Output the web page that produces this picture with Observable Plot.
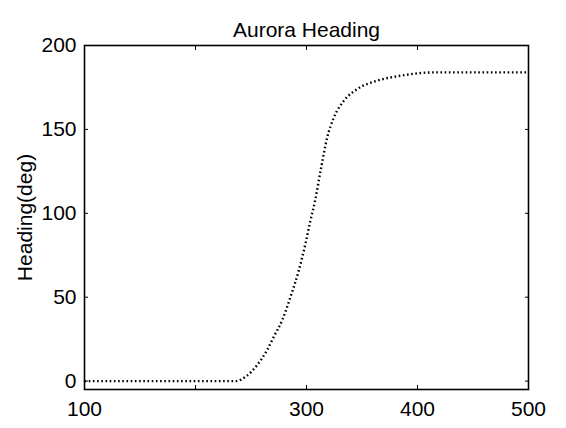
<!DOCTYPE html>
<html>
<head>
<meta charset="utf-8">
<script src="https://cdn.jsdelivr.net/npm/d3@7"></script>
<script src="https://cdn.jsdelivr.net/npm/@observablehq/plot@0.6"></script>
<style>
  html, body { margin: 0; padding: 0; background: #fff; }
  svg { display: block; }
</style>
</head>
<body>
<div id="chart"></div>
<script>
const title = "Aurora Heading";
const yLabel = "Heading(deg)";

// Sampled heading curve (x, heading in degrees)
const xs = [100, 150, 200, 236, 246, 255.5, 264.5, 270.5, 278.1, 285.6, 293.1, 299.1, 303.6, 307.5, 312.6, 318.6, 324.6, 333.6, 345.6, 363.6, 385, 415, 450, 500];
const headings = [0, 0, 0, 0, 3, 9.5, 18.5, 26.4, 36.3, 50.2, 66.1, 82, 95.8, 106.7, 125, 145, 157, 167, 174, 179, 182, 184, 184, 184];

const xTicks = [100, 200, 300, 400, 500];
const xTickLabels = ["100", "", "300", "400", "500"];
const yTicks = [0, 50, 100, 150, 200];
const yTickLabels = ["0", "50", "100", "150", "200"];

const data = xs.map((x, i) => ({x, y: headings[i]}));
const xFmt = d => xTickLabels[xTicks.indexOf(d)];
const yFmt = d => yTickLabels[yTicks.indexOf(d)];

const font = "'Liberation Sans', Arial, sans-serif";

const chart = Plot.plot({
  width: 566,
  height: 428,
  marginLeft: 84,
  marginRight: 38,
  marginTop: 45,
  marginBottom: 39,
  style: {fontFamily: font, background: "#fff", color: "#000"},
  x: {domain: [100, 500]},
  y: {domain: [-5, 200]},
  marks: [
    Plot.frame({stroke: "#000", strokeWidth: 1.6}),
    Plot.axisX({anchor: "bottom", ticks: xTicks, tickSize: -4, tickFormat: xFmt, tickPadding: 16, fontSize: 21, label: null}),
    Plot.axisX({anchor: "top", ticks: xTicks, tickSize: -4, tickFormat: () => "", label: null}),
    Plot.axisY({anchor: "left", ticks: yTicks, tickSize: -4, tickFormat: yFmt, tickPadding: 12, fontSize: 21, label: null}),
    Plot.axisY({anchor: "right", ticks: yTicks, tickSize: -4, tickFormat: () => "", label: null}),
    Plot.line(data, {x: "x", y: "y", curve: "monotone-x", stroke: "#000", strokeWidth: 2.4, strokeDasharray: "1.6,2.6", strokeLinecap: "butt"}),
    Plot.text([title], {frameAnchor: "top", dy: -23, fontSize: 21, fill: "#000", text: d => d}),
    Plot.text([yLabel], {frameAnchor: "left", textAnchor: "middle", dx: -59, dy: 0, rotate: -90, fontSize: 21, fill: "#000", text: d => d})
  ]
});
document.getElementById("chart").appendChild(chart);
</script>
</body>
</html>
